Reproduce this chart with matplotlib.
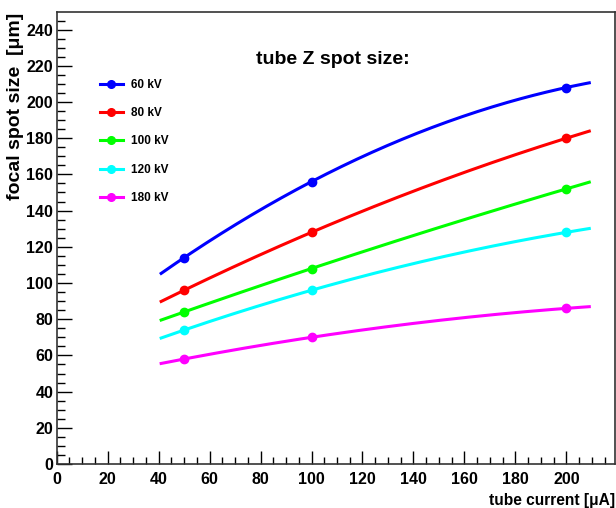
import numpy as np
import matplotlib
matplotlib.use("Agg")
import matplotlib.pyplot as plt

plt.rcParams['font.family'] = ['Liberation Sans', 'DejaVu Sans']
plt.rcParams['font.weight'] = 'bold'
plt.rcParams['axes.labelweight'] = 'bold'

# Data
current = [50, 100, 200]
labels = ['60 kV', '80 kV', '100 kV', '120 kV', '180 kV']
spot_60 = [114, 156, 208]
spot_80 = [96, 128, 180]
spot_100 = [84, 108, 152]
spot_120 = [74, 96, 128]
spot_180 = [58, 70, 86]
colors = ['#0000ff', '#ff0000', '#00ff00', '#00ffff', '#ff00ff']
fit_range = (41, 209)

fig = plt.figure(figsize=(6.16, 5.08), dpi=100)
ax = fig.add_axes([0.092, 0.0866, 0.906, 0.889])

for vals, lab, col in zip([spot_60, spot_80, spot_100, spot_120, spot_180], labels, colors):
    # 2nd order polynomial fit, like the original
    coef = np.polyfit(current, vals, 2)
    xf = np.linspace(fit_range[0], fit_range[1], 200)
    ax.plot(xf, np.polyval(coef, xf), color=col, lw=2.2)
    ax.plot(current, vals, 'o', color=col, ms=6)
    ax.plot([], [], '-o', color=col, lw=2.2, ms=5.5, label=lab)

ax.set_xlim(0, 219)
ax.set_ylim(0, 249.5)
ax.set_xticks(np.arange(0, 201, 20))
ax.set_xticks(np.arange(0, 216, 5), minor=True)
ax.set_yticks(np.arange(0, 241, 20))
ax.set_yticks(np.arange(0, 246, 5), minor=True)
ax.tick_params(axis='x', which='major', direction='in', length=9.6, width=1, labelsize=11.5, pad=6)
ax.tick_params(axis='x', which='minor', direction='in', length=4.8, width=1)
ax.tick_params(axis='y', which='major', direction='in', length=10.8, width=1, labelsize=11.5, pad=2.5)
ax.tick_params(axis='y', which='minor', direction='in', length=5.4, width=1)
for s in ax.spines.values():
    s.set_color('#333333')
    s.set_linewidth(1.2)

ax.set_xlabel('tube current [\u03bcA]', fontsize=11.2, loc='right')
ax.xaxis.set_label_coords(1.0, -0.064)
ax.set_ylabel('focal spot size  [\u03bcm]', fontsize=14, loc='top')
ax.yaxis.set_label_coords(-0.058, 1.0)

ax.text(0.495, 0.895, 'tube Z spot size:', transform=ax.transAxes, fontsize=14,
        ha='center', va='center')

ax.legend(loc='upper left', bbox_to_anchor=(0.0776, 0.853), frameon=False,
          fontsize=8.5, borderpad=0, borderaxespad=0, labelspacing=1.38,
          handlelength=1.95, handletextpad=0.7)

fig.savefig('out.png', dpi=100)
